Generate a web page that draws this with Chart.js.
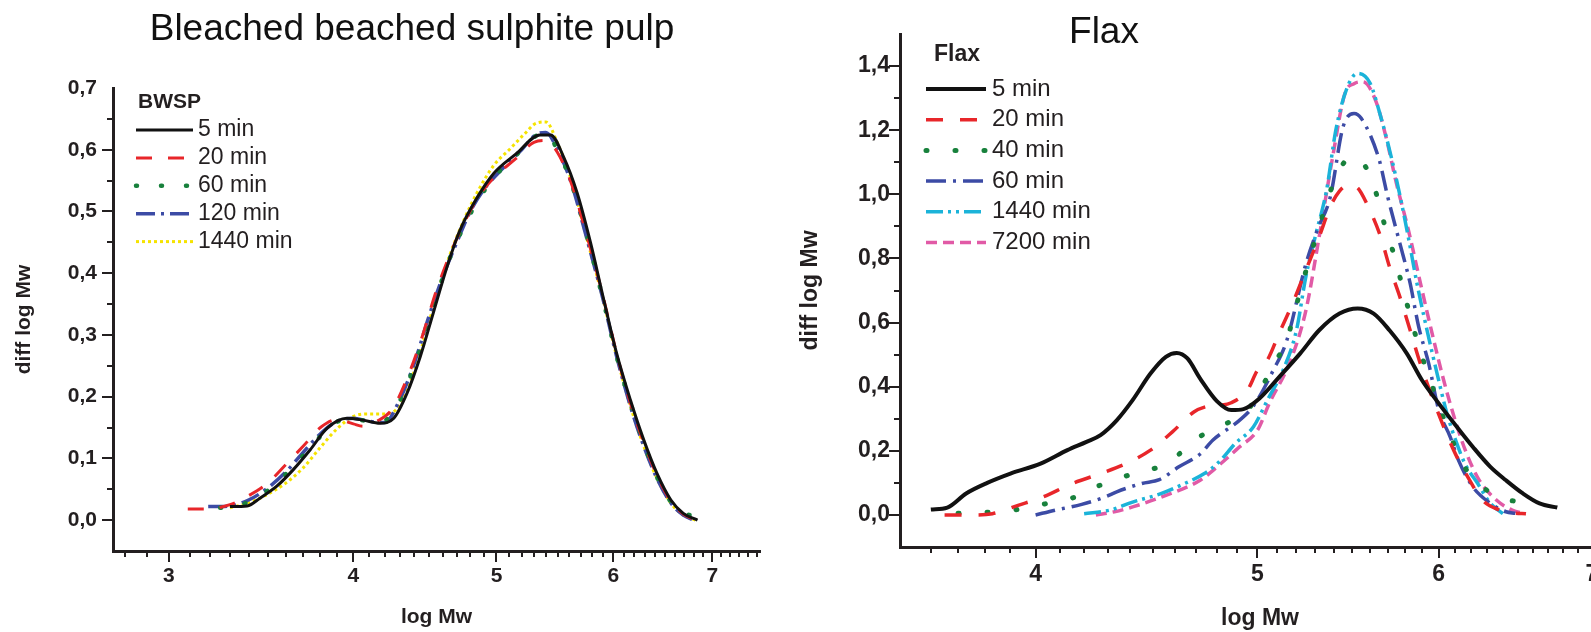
<!DOCTYPE html>
<html>
<head>
<meta charset="utf-8">
<script src="https://cdn.jsdelivr.net/npm/chart.js@4.4.1/dist/chart.umd.min.js"></script>
<style>
  html, body { margin: 0; padding: 0; background: #fff; overflow: hidden; }
  .wrap { position: relative; width: 1591px; height: 632px; overflow: hidden; }
  canvas { position: absolute; top: 0; }
  #bwsp { left: 0; }
  #flax { left: 790px; }
  .title {
    position: absolute; transform: translateX(-50%); white-space: nowrap;
    font-family: 'Liberation Sans', Arial, sans-serif; line-height: 1; color: #111;
  }
</style>
</head>
<body>
<div class="wrap">
  <canvas id="bwsp" width="790" height="632"></canvas>
  <canvas id="flax" width="850" height="632"></canvas>
  <div class="title" style="left:412px; top:9px; font-size:37px;">Bleached beached sulphite pulp</div>
  <div class="title" style="left:1104px; top:12px; font-size:37px;">Flax</div>
</div>
<script>
// ---- BWSP data (x = log Mw, y = diff log Mw) ----
const bwspLabels = ['5 min', '20 min', '60 min', '120 min', '1440 min'];

const bwspX5 = [3.30, 3.39, 3.46, 3.55, 3.64, 3.74, 3.84, 3.96, 4.06, 4.17, 4.26, 4.35, 4.44, 4.53, 4.63, 4.72, 4.85, 4.98, 5.16, 5.35, 5.44, 5.55, 5.67, 5.79, 5.91, 6.03, 6.16, 6.29, 6.42, 6.56, 6.69, 6.84];
const bwspY5 = [0.022, 0.023, 0.036, 0.055, 0.081, 0.114, 0.149, 0.165, 0.162, 0.157, 0.165, 0.206, 0.265, 0.335, 0.411, 0.468, 0.522, 0.562, 0.594, 0.624, 0.624, 0.589, 0.530, 0.449, 0.357, 0.270, 0.195, 0.130, 0.076, 0.033, 0.011, 0.0];

const bwspX20 = [3.09, 3.18, 3.30, 3.40, 3.50, 3.60, 3.70, 3.80, 3.90, 4.00, 4.06, 4.15, 4.25, 4.35, 4.45, 4.55, 4.65, 4.75, 4.85, 4.98, 5.15, 5.30, 5.40, 5.50, 5.62, 5.75, 5.90, 6.03, 6.16, 6.29, 6.42, 6.56, 6.69, 6.82];
const bwspY20 = [0.018, 0.018, 0.025, 0.040, 0.060, 0.090, 0.120, 0.150, 0.163, 0.156, 0.152, 0.160, 0.180, 0.230, 0.295, 0.370, 0.430, 0.480, 0.520, 0.555, 0.585, 0.612, 0.615, 0.595, 0.545, 0.465, 0.365, 0.270, 0.190, 0.126, 0.073, 0.031, 0.010, 0.0];

const bwspX60 = [3.25, 3.35, 3.45, 3.55, 3.65, 3.75, 3.85, 3.95, 4.05, 4.15, 4.25, 4.35, 4.45, 4.55, 4.65, 4.75, 4.85, 4.98, 5.15, 5.30, 5.38, 5.50, 5.62, 5.75, 5.90, 6.03, 6.16, 6.29, 6.42, 6.56, 6.69, 6.82];
const bwspY60 = [0.020, 0.024, 0.038, 0.060, 0.090, 0.120, 0.150, 0.163, 0.162, 0.158, 0.172, 0.220, 0.285, 0.360, 0.425, 0.475, 0.515, 0.555, 0.590, 0.620, 0.627, 0.600, 0.545, 0.465, 0.360, 0.265, 0.190, 0.125, 0.070, 0.030, 0.012, 0.006];

const bwspX120 = [3.19, 3.30, 3.40, 3.50, 3.60, 3.70, 3.80, 3.90, 4.00, 4.10, 4.20, 4.30, 4.40, 4.50, 4.60, 4.70, 4.80, 4.90, 5.05, 5.20, 5.32, 5.40, 5.50, 5.62, 5.75, 5.90, 6.03, 6.16, 6.29, 6.42, 6.56, 6.69, 6.80];
const bwspY120 = [0.022, 0.023, 0.033, 0.052, 0.078, 0.110, 0.140, 0.160, 0.165, 0.160, 0.158, 0.195, 0.255, 0.330, 0.395, 0.450, 0.500, 0.535, 0.570, 0.600, 0.625, 0.628, 0.600, 0.545, 0.460, 0.360, 0.265, 0.185, 0.120, 0.068, 0.028, 0.008, 0.0];

const bwspX1440 = [3.30, 3.40, 3.50, 3.60, 3.70, 3.80, 3.90, 4.00, 4.10, 4.20, 4.28, 4.35, 4.45, 4.55, 4.65, 4.75, 4.85, 4.98, 5.10, 5.22, 5.32, 5.40, 5.50, 5.62, 5.75, 5.90, 6.03, 6.16, 6.29, 6.42, 6.56, 6.69, 6.82];
const bwspY1440 = [0.020, 0.028, 0.042, 0.060, 0.085, 0.118, 0.148, 0.168, 0.172, 0.172, 0.180, 0.210, 0.280, 0.360, 0.430, 0.485, 0.530, 0.575, 0.600, 0.625, 0.643, 0.645, 0.610, 0.550, 0.460, 0.360, 0.265, 0.185, 0.120, 0.068, 0.028, 0.008, 0.0];

// ---- Flax data ----
const flaxLabels = ['5 min', '20 min', '40 min', '60 min', '1440 min', '7200 min'];

const flaxX5 = [3.60, 3.66, 3.73, 3.81, 3.90, 4.02, 4.13, 4.21, 4.27, 4.34, 4.41, 4.49, 4.56, 4.61, 4.66, 4.72, 4.80, 4.87, 4.93, 5.01, 5.11, 5.22, 5.32, 5.43, 5.53, 5.62, 5.71, 5.81, 5.90, 6.00, 6.11, 6.21, 6.32, 6.42, 6.53, 6.64, 6.76];
const flaxY5 = [0.017, 0.023, 0.067, 0.100, 0.129, 0.160, 0.202, 0.228, 0.249, 0.295, 0.358, 0.441, 0.493, 0.505, 0.488, 0.425, 0.355, 0.327, 0.330, 0.363, 0.430, 0.504, 0.576, 0.628, 0.644, 0.628, 0.576, 0.504, 0.420, 0.348, 0.275, 0.212, 0.150, 0.108, 0.067, 0.036, 0.023];

const flaxX20 = [3.65, 3.75, 3.83, 3.93, 4.03, 4.15, 4.27, 4.38, 4.49, 4.59, 4.69, 4.75, 4.81, 4.87, 4.95, 5.00, 5.05, 5.11, 5.18, 5.25, 5.32, 5.38, 5.43, 5.48, 5.53, 5.58, 5.66, 5.71, 5.77, 5.83, 5.89, 5.96, 6.03, 6.10, 6.19, 6.27, 6.38, 6.47, 6.55];
const flaxY20 = [0.0, 0.0, 0.004, 0.030, 0.056, 0.098, 0.129, 0.160, 0.202, 0.259, 0.321, 0.338, 0.342, 0.350, 0.389, 0.451, 0.483, 0.566, 0.660, 0.764, 0.867, 0.961, 1.010, 1.029, 1.020, 0.972, 0.867, 0.774, 0.680, 0.576, 0.472, 0.368, 0.275, 0.192, 0.108, 0.046, 0.015, 0.006, 0.004];

const flaxX40 = [3.70, 3.80, 3.88, 3.95, 4.07, 4.17, 4.23, 4.34, 4.43, 4.55, 4.64, 4.72, 4.82, 4.95, 5.01, 5.08, 5.15, 5.18, 5.23, 5.30, 5.36, 5.41, 5.50, 5.60, 5.65, 5.69, 5.74, 5.78, 5.87, 5.92, 5.99, 6.05, 6.10, 6.17, 6.27, 6.40, 6.50, 6.57];
const flaxY40 = [0.005, 0.008, 0.012, 0.020, 0.040, 0.058, 0.082, 0.110, 0.134, 0.155, 0.200, 0.245, 0.277, 0.327, 0.384, 0.467, 0.545, 0.610, 0.720, 0.860, 0.972, 1.055, 1.117, 1.060, 0.972, 0.888, 0.805, 0.722, 0.545, 0.462, 0.358, 0.275, 0.212, 0.140, 0.087, 0.051, 0.042, 0.040];

const flaxX60 = [4.00, 4.08, 4.19, 4.29, 4.34, 4.45, 4.53, 4.62, 4.72, 4.78, 4.91, 4.98, 5.08, 5.15, 5.25, 5.31, 5.38, 5.45, 5.51, 5.55, 5.65, 5.70, 5.77, 5.83, 5.88, 5.94, 6.00, 6.07, 6.12, 6.21, 6.32, 6.42, 6.48];
const flaxY60 = [0.0, 0.015, 0.033, 0.056, 0.072, 0.098, 0.110, 0.150, 0.190, 0.233, 0.295, 0.340, 0.451, 0.545, 0.784, 0.888, 0.992, 1.211, 1.252, 1.237, 1.110, 0.992, 0.847, 0.722, 0.587, 0.472, 0.327, 0.243, 0.171, 0.087, 0.036, 0.010, 0.005];

const flaxX1440 = [4.20, 4.31, 4.41, 4.54, 4.64, 4.74, 4.81, 4.89, 4.98, 5.05, 5.13, 5.20, 5.25, 5.30, 5.36, 5.41, 5.47, 5.53, 5.60, 5.66, 5.72, 5.78, 5.83, 5.87, 5.93, 5.99, 6.05, 6.11, 6.16, 6.24, 6.32, 6.40];
const flaxY1440 = [0.004, 0.015, 0.040, 0.067, 0.096, 0.129, 0.165, 0.223, 0.275, 0.358, 0.451, 0.576, 0.745, 0.870, 1.013, 1.200, 1.330, 1.377, 1.346, 1.242, 1.117, 0.972, 0.836, 0.722, 0.576, 0.441, 0.316, 0.223, 0.160, 0.098, 0.036, 0.004];

const flaxX7200 = [4.25, 4.33, 4.41, 4.56, 4.72, 4.81, 4.91, 5.00, 5.06, 5.17, 5.25, 5.32, 5.39, 5.46, 5.51, 5.56, 5.63, 5.69, 5.75, 5.82, 5.90, 5.97, 6.03, 6.10, 6.17, 6.25, 6.36, 6.46, 6.55];
const flaxY7200 = [0.0, 0.010, 0.025, 0.061, 0.108, 0.155, 0.212, 0.264, 0.348, 0.483, 0.639, 0.867, 1.107, 1.315, 1.345, 1.351, 1.294, 1.179, 1.034, 0.888, 0.701, 0.545, 0.420, 0.295, 0.192, 0.108, 0.046, 0.015, 0.004];

// ---- axis labels ----
const bwspXMajor = [3, 4, 5, 6, 7];
const flaxXMajor = [4, 5, 6, 7];
const bwspYLabels = ['0,0', '0,1', '0,2', '0,3', '0,4', '0,5', '0,6', '0,7'];
const flaxYLabels = ['0,0', '0,2', '0,4', '0,6', '0,8', '1,0', '1,2', '1,4'];

const ink = '#231f20';
const family = "'Liberation Sans', Arial, sans-serif";

function points(xs, ys) {
  return xs.map((x, i) => ({ x: x, y: ys[i] }));
}

function series(label, xs, ys, color, width, dash, cap) {
  return {
    label: label,
    data: points(xs, ys),
    borderColor: color,
    backgroundColor: color,
    borderWidth: width,
    borderDash: dash,
    borderCapStyle: cap || 'butt',
    pointRadius: 0,
    cubicInterpolationMode: 'monotone',
    fill: false
  };
}

// minor ticks every 0.1 of log Mw
function minorSteps(from, to) {
  const out = [];
  for (let k = Math.round(from * 10); k <= Math.round(to * 10); k++) out.push(k / 10);
  return out;
}

// ticks drawn by hand so majors can be longer than minors
const tickMarks = {
  id: 'tickMarks',
  afterDraw(chart) {
    const { ctx, chartArea } = chart;
    const xs = chart.scales.x;
    const ys = chart.scales.y;
    ctx.save();
    ctx.strokeStyle = ink;
    ctx.lineWidth = 2;
    ctx.beginPath();
    xs.ticks.forEach(t => {
      if (t.value <= xs.min || t.value >= xs.max) return;
      const px = Math.round(xs.getPixelForValue(t.value));
      const len = t.label ? 11 : 6;
      ctx.moveTo(px, chartArea.bottom);
      ctx.lineTo(px, chartArea.bottom + len);
    });
    ys.ticks.forEach(t => {
      if (t.value <= ys.min + 1e-9 || t.value >= ys.max - 1e-9) return;
      const py = Math.round(ys.getPixelForValue(t.value));
      const len = t.label ? 11 : 6;
      ctx.moveTo(chartArea.left - len, py);
      ctx.lineTo(chartArea.left, py);
    });
    ctx.stroke();
    ctx.restore();
  }
};

// legend drawn inside the plot, styled like the original
const insideLegend = {
  id: 'insideLegend',
  afterDraw(chart, args, o) {
    const ctx = chart.ctx;
    ctx.save();
    ctx.fillStyle = ink;
    ctx.textBaseline = 'middle';
    ctx.textAlign = 'left';
    ctx.font = 'bold ' + o.titleSize + 'px ' + family;
    ctx.fillText(o.title, o.titleX, o.titleY);
    ctx.font = o.fontSize + 'px ' + family;
    chart.data.datasets.forEach((ds, i) => {
      const y = o.top + i * o.gap;
      ctx.save();
      ctx.strokeStyle = ds.borderColor;
      ctx.lineWidth = ds.borderWidth;
      ctx.lineCap = ds.borderCapStyle;
      ctx.setLineDash(ds.borderDash);
      ctx.beginPath();
      ctx.moveTo(o.x0, y);
      ctx.lineTo(o.x1, y);
      ctx.stroke();
      ctx.restore();
      ctx.fillText(ds.label, o.textX, y);
    });
    ctx.restore();
  }
};

function makeChart(id, datasets, c) {
  return new Chart(document.getElementById(id), {
    type: 'line',
    data: { datasets: datasets },
    plugins: [tickMarks, insideLegend],
    options: {
      responsive: false,
      animation: false,
      events: [],
      layout: { padding: c.padding },
      plugins: {
        legend: { display: false },
        tooltip: { enabled: false },
        insideLegend: c.legend
      },
      scales: {
        x: {
          type: 'logarithmic',
          min: c.xMin,
          max: c.xMax,
          afterBuildTicks: s => { s.ticks = c.xTicks.map(v => ({ value: v })); },
          afterFit: s => { s.height = c.xHeight; },
          grid: { display: false, drawTicks: false },
          border: { display: true, width: 3, color: ink },
          ticks: {
            autoSkip: false, maxRotation: 0, minRotation: 0,
            padding: c.xPad, color: ink,
            font: { family: family, size: c.tickSize, weight: 'bold' },
            callback: v => (c.xMajor.indexOf(Math.round(v * 10) / 10) >= 0 ? String(Math.round(v)) : '')
          },
          title: {
            display: true, text: 'log Mw', color: ink,
            font: { family: family, size: c.titleSize, weight: 'bold', lineHeight: 1.2 },
            padding: { top: 0, bottom: c.xTitlePad }
          }
        },
        y: {
          min: c.yMin,
          max: c.yMax,
          afterFit: s => { s.width = c.yWidth; },
          grid: { display: false, drawTicks: false },
          border: { display: true, width: 3, color: ink },
          ticks: {
            stepSize: c.yMinor,
            padding: c.yPad, color: ink,
            font: { family: family, size: c.tickSize, weight: 'bold' },
            callback: v => {
              const k = Math.round(v / c.yMajor);
              if (Math.abs(v - k * c.yMajor) > 1e-6 || k < 0) return '';
              return c.yLabels[k] || '';
            }
          },
          title: {
            display: true, text: 'diff log Mw', color: ink,
            font: { family: family, size: c.titleSize, weight: 'bold', lineHeight: 1.2 },
            padding: { top: c.yTitlePad, bottom: 0 }
          }
        }
      }
    }
  });
}

makeChart('bwsp', [
  series(bwspLabels[0], bwspX5, bwspY5, '#111111', 3, []),
  series(bwspLabels[1], bwspX20, bwspY20, '#e8262a', 3, [16, 16]),
  series(bwspLabels[2], bwspX60, bwspY60, '#18813c', 4.5, [1, 24], 'round'),
  series(bwspLabels[3], bwspX120, bwspY120, '#3c4ba5', 3.5, [19, 6, 3, 6]),
  series(bwspLabels[4], bwspX1440, bwspY1440, '#f5e300', 3, [3, 3])
], {
  padding: { left: 0, top: 88, right: 30, bottom: 0 },
  xMin: 2.75, xMax: 7.54, xTicks: minorSteps(2.8, 7.5), xMajor: bwspXMajor,
  xHeight: 81, xPad: 13, xTitlePad: 2,
  yMin: -0.05, yMax: 0.7, yMinor: 0.05, yMajor: 0.1, yLabels: bwspYLabels,
  yWidth: 113, yPad: 16, yTitlePad: 12,
  tickSize: 21, titleSize: 21,
  legend: { title: 'BWSP', titleX: 138, titleY: 102, titleSize: 21, fontSize: 23,
            top: 130, gap: 27.9, x0: 136, x1: 193, textX: 198 }
});

makeChart('flax', [
  series(flaxLabels[0], flaxX5, flaxY5, '#111111', 4, []),
  series(flaxLabels[1], flaxX20, flaxY20, '#e8262a', 3.5, [17, 17]),
  series(flaxLabels[2], flaxX40, flaxY40, '#18813c', 5, [1, 28], 'round'),
  series(flaxLabels[3], flaxX60, flaxY60, '#3c4ba5', 3.5, [20, 7, 3, 7]),
  series(flaxLabels[4], flaxX1440, flaxY1440, '#1bb3d9', 3.5, [17, 5, 3, 5, 3, 5]),
  series(flaxLabels[5], flaxX7200, flaxY7200, '#e15aa6', 3.5, [11, 6])
], {
  padding: { left: 0, top: 34, right: 20, bottom: 0 },
  xMin: 3.49, xMax: 7.2, xTicks: minorSteps(3.6, 7.1), xMajor: flaxXMajor,
  xHeight: 85, xPad: 14, xTitlePad: 0,
  yMin: -0.1, yMax: 1.5, yMinor: 0.1, yMajor: 0.2, yLabels: flaxYLabels,
  yWidth: 110, yPad: 10, yTitlePad: 7,
  tickSize: 23, titleSize: 23,
  legend: { title: 'Flax', titleX: 144, titleY: 55, titleSize: 23, fontSize: 24,
            top: 89, gap: 30.7, x0: 136, x1: 196, textX: 202 }
});
</script>
</body>
</html>
